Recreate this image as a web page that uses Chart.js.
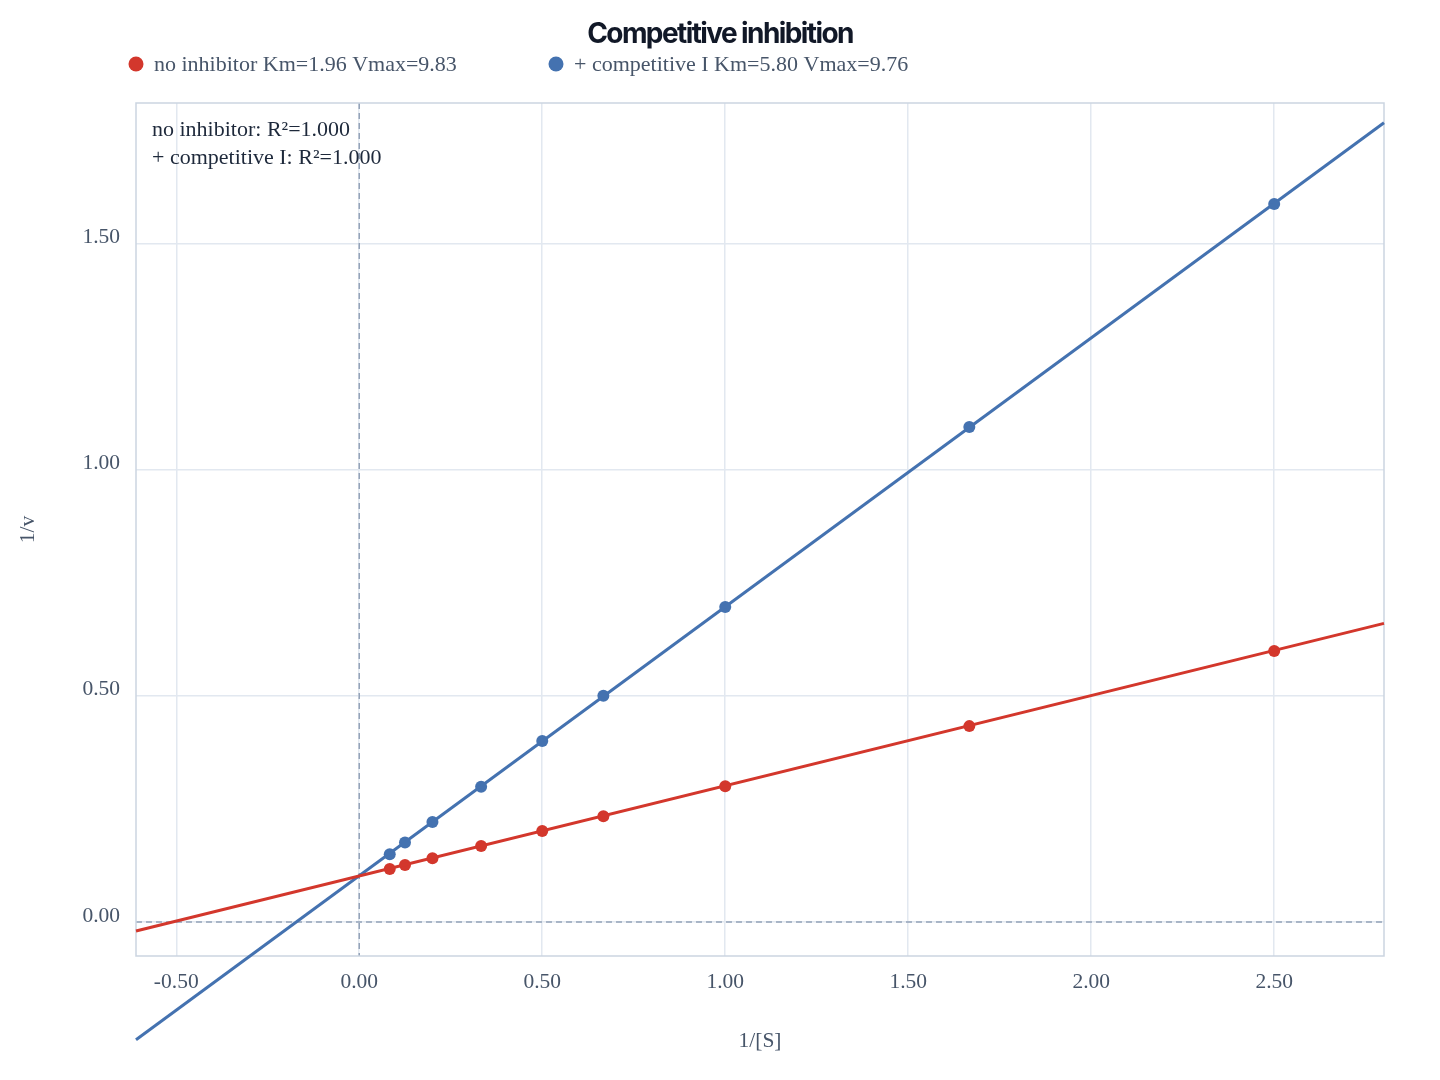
<!DOCTYPE html>
<html>
<head>
<meta charset="utf-8">
<script src="https://cdn.jsdelivr.net/npm/chart.js@4.4.1/dist/chart.umd.min.js"></script>
<style>
  html, body { margin: 0; padding: 0; background: #fff; }
  #wrap { width: 1440px; height: 1080px; }
</style>
</head>
<body>
<div id="wrap"><canvas id="chart" width="1440" height="1080"></canvas></div>
<script>
// data
const invS = [0.0833, 0.125, 0.2, 0.333, 0.5, 0.667, 1.0, 1.667, 2.5];
const invVNone = [0.117, 0.126, 0.141, 0.168, 0.201, 0.234, 0.300, 0.433, 0.599];
const invVComp = [0.150, 0.176, 0.221, 0.299, 0.400, 0.500, 0.696, 1.094, 1.587];
const seriesNames = ['no inhibitor', '+ competitive I'];
const kmValues = [1.96, 5.80];
const vmaxValues = [9.83, 9.76];
const r2Values = ['1.000', '1.000'];
const xTicks = [-0.5, 0, 0.5, 1.0, 1.5, 2.0, 2.5];
const yTicks = [0, 0.5, 1.0, 1.5];
const xRange = [-0.61, 2.8];
const yRange = [-0.075, 1.81];

const chartTitle = 'Competitive inhibition';
const colors = ['#d3372c', '#4472b0'];
const serif = '"Liberation Serif", "Times New Roman", serif';

// fitted Lineweaver-Burk line from Km/Vmax
function fitLine(i) {
  return xRange.map(x => ({ x: x, y: kmValues[i] / vmaxValues[i] * x + 1 / vmaxValues[i] }));
}
function pts(ys) {
  return invS.map((x, i) => ({ x: x, y: ys[i] }));
}

// dashed zero lines, frame, title, legend and R² notes
const extras = {
  id: 'extras',
  beforeDatasetsDraw(chart) {
    const { ctx, chartArea: a, scales: { x, y } } = chart;
    ctx.save();
    ctx.strokeStyle = '#94a3b8';
    ctx.lineWidth = 1.5;
    ctx.setLineDash([6, 4]);
    const x0 = x.getPixelForValue(0), y0 = y.getPixelForValue(0);
    ctx.beginPath();
    ctx.moveTo(x0, a.top); ctx.lineTo(x0, a.bottom);
    ctx.moveTo(a.left, y0); ctx.lineTo(a.right, y0);
    ctx.stroke();
    ctx.setLineDash([]);
    ctx.strokeStyle = '#cbd5e1';
    ctx.lineWidth = 1.5;
    ctx.strokeRect(a.left, a.top, a.right - a.left, a.bottom - a.top);
    ctx.restore();
  },
  afterDraw(chart) {
    const { ctx, chartArea: a } = chart;
    ctx.save();
    // title
    ctx.font = 'bold 28px Inter, "Noto Sans", sans-serif';
    ctx.letterSpacing = '-1.6px';
    ctx.fillStyle = '#111827';
    ctx.textAlign = 'center';
    ctx.textBaseline = 'middle';
    ctx.fillText(chartTitle, chart.width / 2, 35);
    ctx.letterSpacing = '0px';
    // legend
    ctx.font = '22px ' + serif;
    ctx.textAlign = 'left';
    const legendX = [136, 556];
    seriesNames.forEach((n, i) => {
      ctx.fillStyle = colors[i];
      ctx.beginPath();
      ctx.arc(legendX[i], 64, 7.5, 0, Math.PI * 2);
      ctx.fill();
      ctx.fillStyle = '#475569';
      ctx.fillText(n + ' Km=' + kmValues[i].toFixed(2) + ' Vmax=' + vmaxValues[i].toFixed(2), legendX[i] + 18, 65);
    });
    // R² notes
    ctx.fillStyle = '#1e293b';
    seriesNames.forEach((n, i) => {
      ctx.fillText(n + ': R\u00b2=' + r2Values[i], a.left + 16, a.top + 27 + i * 28);
    });
    ctx.restore();
  }
};

const tickFont = { family: serif, size: 21.5 };

new Chart(document.getElementById('chart'), {
  type: 'scatter',
  data: {
    datasets: [
      { label: seriesNames[0], data: pts(invVNone), backgroundColor: colors[0], borderColor: colors[0], pointRadius: 6, pointBorderWidth: 0, order: 2 },
      { label: seriesNames[1], data: pts(invVComp), backgroundColor: colors[1], borderColor: colors[1], pointRadius: 6, pointBorderWidth: 0, order: 2 },
      { type: 'line', label: 'fit0', data: fitLine(0), borderColor: colors[0], borderWidth: 3, pointRadius: 0, fill: false, clip: false, order: 1 },
      { type: 'line', label: 'fit1', data: fitLine(1), borderColor: colors[1], borderWidth: 3, pointRadius: 0, fill: false, clip: false, order: 1 }
    ]
  },
  options: {
    responsive: false,
    animation: false,
    layout: { padding: { left: 0, right: 56, top: 103, bottom: 0 } },
    plugins: {
      legend: { display: false },
      tooltip: { enabled: false },
      title: { display: false }
    },
    scales: {
      x: {
        type: 'linear',
        min: xRange[0], max: xRange[1],
        afterBuildTicks: s => { s.ticks = xTicks.map(v => ({ value: v })); },
        afterFit: s => { s.height = 124; },
        grid: { color: '#e2e8f0', lineWidth: 1.5, drawTicks: false },
        border: { display: false },
        ticks: { font: tickFont, color: '#475569', padding: 13, callback: v => v.toFixed(2) },
        title: { display: true, text: '1/[S]', font: tickFont, color: '#475569', padding: { bottom: 26 } }
      },
      y: {
        type: 'linear',
        min: yRange[0], max: yRange[1],
        afterBuildTicks: s => { s.ticks = yTicks.map(v => ({ value: v })); },
        afterFit: s => { s.width = 136; },
        grid: { color: '#e2e8f0', lineWidth: 1.5, drawTicks: false },
        border: { display: false },
        ticks: { font: tickFont, color: '#475569', padding: 16, labelOffset: -6, callback: v => v.toFixed(2) },
        title: { display: true, text: '1/v', font: tickFont, color: '#475569', padding: { top: 15 } }
      }
    }
  },
  plugins: [extras]
});
</script>
</body>
</html>
